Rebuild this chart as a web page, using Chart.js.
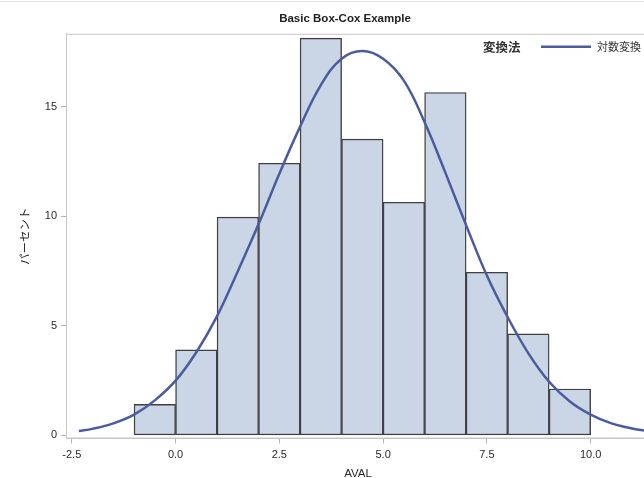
<!DOCTYPE html>
<html>
<head>
<meta charset="utf-8">
<script src="https://cdn.jsdelivr.net/npm/chart.js@4.4.1/dist/chart.umd.min.js"></script>
<style>
  html, body { margin: 0; padding: 0; background: #ffffff; overflow: hidden; }
  #wrap { position: absolute; left: 0; top: 0; width: 690px; height: 490px; }
  #topline { position: absolute; left: 0; top: 1px; width: 690px; height: 1px; background: #e2e2e2; }
</style>
</head>
<body>
<div id="topline"></div>
<div id="wrap"><canvas id="c" width="690" height="490"></canvas></div>
<script>
// ---- data ----
const binStarts   = [-1, 0, 1, 2, 3, 4, 5, 6, 7, 8, 9];
const binWidth    = 1;
const percents    = [1.42, 3.91, 9.97, 12.43, 18.14, 13.53, 10.65, 15.66, 7.45, 4.64, 2.12];
const curveX      = [-2.33, -2.0, -1.5, -1.0, -0.5, 0.0, 0.5, 1.0, 1.5, 2.0, 2.5, 3.0, 3.5, 4.0, 4.5,
                     5.0, 5.5, 6.0, 6.5, 7.0, 7.5, 8.0, 8.5, 9.0, 9.5, 10.0, 10.5, 11.0, 11.4];
const curveY      = [0.2, 0.3, 0.55, 0.95, 1.6, 2.5, 3.8, 5.45, 7.5, 9.65, 11.95, 14.1, 16.0, 17.2, 17.55,
                     17.2, 16.2, 14.3, 12.0, 9.6, 7.3, 5.4, 3.75, 2.45, 1.55, 0.95, 0.55, 0.32, 0.19];
const xTicks      = [-2.5, 0.0, 2.5, 5.0, 7.5, 10.0];
const yTicks      = [0, 5, 10, 15];
const titleText   = 'Basic Box-Cox Example';
const xTitle      = 'AVAL';
const yTitle      = 'パーセント';
const legendTitle = '変換法';
const seriesName  = '対数変換';

const latin = "'Liberation Sans', Arial, sans-serif";
const cjk = "'Noto Sans CJK JP', 'Noto Sans CJK SC', sans-serif";
const frameColor = '#c6c6c6';
const lineColor = '#4b5c9e';

const barData = binStarts.map((s, i) => ({ x: s + binWidth / 2, y: percents[i] }));
const curveData = curveX.map((x, i) => ({ x: x, y: curveY[i] }));

const framePlugin = {
  id: 'frame',
  beforeDatasetsDraw(chart) {
    const { ctx, chartArea: a } = chart;
    ctx.save();
    ctx.strokeStyle = frameColor;
    ctx.lineWidth = 1;
    ctx.strokeRect(a.left + 0.5, a.top + 0.5, a.right - a.left - 1, a.bottom - a.top - 1);
    ctx.restore();
  }
};

const legendPlugin = {
  id: 'inlineLegend',
  afterDraw(chart) {
    const { ctx, chartArea: a } = chart;
    const y = a.top + 13;
    const ds = chart.data.datasets.find(d => d.type === 'line');
    ctx.save();
    ctx.textBaseline = 'middle';
    ctx.fillStyle = '#333333';
    ctx.font = 'bold 12.5px ' + cjk;
    ctx.textAlign = 'left';
    ctx.fillText(legendTitle, a.right - 167, y);
    ctx.strokeStyle = ds.borderColor;
    ctx.lineWidth = 2.5;
    ctx.beginPath();
    ctx.moveTo(a.right - 109, y);
    ctx.lineTo(a.right - 59, y);
    ctx.stroke();
    ctx.font = '11px ' + cjk;
    ctx.fillText(ds.label, a.right - 53, y);
    ctx.restore();
  }
};

new Chart(document.getElementById('c'), {
  type: 'bar',
  data: {
    datasets: [
      {
        type: 'line',
        label: seriesName,
        data: curveData,
        borderColor: lineColor,
        borderWidth: 2.5,
        pointRadius: 0,
        tension: 0.4,
        fill: false,
        order: 0
      },
      {
        type: 'bar',
        label: 'ヒストグラム',
        data: barData,
        backgroundColor: '#cad6e6',
        borderColor: '#3f3f3f',
        borderWidth: 1.4,
        borderSkipped: false,
        barPercentage: 1.0,
        categoryPercentage: 1.0,
        grouped: false,
        order: 1
      }
    ]
  },
  options: {
    responsive: false,
    animation: false,
    devicePixelRatio: 1,
    layout: { padding: { left: 0, right: 0, top: 0, bottom: 0 } },
    plugins: {
      legend: { display: false },
      tooltip: { enabled: false },
      title: {
        display: true,
        text: titleText,
        color: '#222222',
        font: { family: latin, size: 11.5, weight: 'bold', lineHeight: 1.2 },
        padding: { top: 12, bottom: 8 }
      }
    },
    scales: {
      x: {
        type: 'linear',
        position: 'bottom',
        offset: false,
        min: -2.64,
        max: 11.43,
        afterBuildTicks: s => { s.ticks = xTicks.map(v => ({ value: v })); },
        afterFit: s => { s.height = 51.5; },
        grid: { display: true, drawOnChartArea: false, drawTicks: true, tickLength: 5, color: '#b4b4b4', offset: false },
        border: { display: true, color: frameColor },
        ticks: {
          color: '#2a2a2a',
          padding: 5,
          maxRotation: 0,
          font: { family: latin, size: 11 },
          callback: v => Number(v).toFixed(1)
        },
        title: {
          display: true,
          text: xTitle,
          color: '#2a2a2a',
          font: { family: latin, size: 11.5 },
          padding: { top: 0, bottom: 9 }
        }
      },
      y: {
        type: 'linear',
        position: 'left',
        min: -0.14,
        max: 18.34,
        afterBuildTicks: s => { s.ticks = yTicks.map(v => ({ value: v })); },
        afterFit: s => { s.width = 66; },
        grid: { display: true, drawOnChartArea: false, drawTicks: true, tickLength: 5, color: '#b4b4b4' },
        border: { display: true, color: frameColor },
        ticks: {
          color: '#2a2a2a',
          padding: 4,
          font: { family: latin, size: 11 }
        },
        title: {
          display: true,
          text: yTitle,
          color: '#2a2a2a',
          font: { family: cjk, size: 11.5 },
          padding: { top: 18, bottom: 0 }
        }
      },
      y2: {
        type: 'linear',
        position: 'right',
        display: true,
        min: 0,
        max: 1,
        afterFit: s => { s.width = 40; },
        grid: { display: false, drawTicks: false },
        border: { display: false },
        ticks: { display: false }
      }
    }
  },
  plugins: [framePlugin, legendPlugin]
});
</script>
</body>
</html>
